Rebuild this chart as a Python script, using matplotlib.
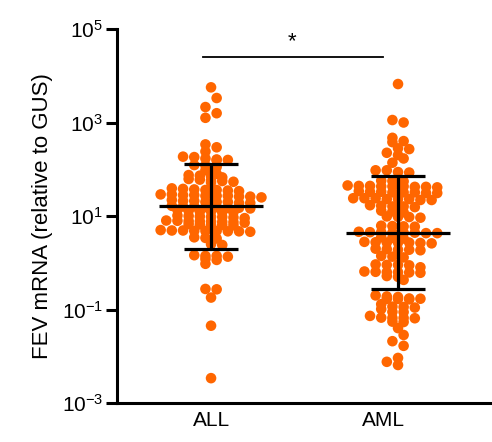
import numpy as np
import matplotlib
matplotlib.use("Agg")
import matplotlib.pyplot as plt

plt.rcParams['font.family'] = ['Liberation Sans', 'DejaVu Sans']
plt.rcParams['mathtext.fontset'] = 'custom'
plt.rcParams['mathtext.rm'] = 'Liberation Sans'
plt.rcParams['mathtext.it'] = 'Liberation Sans:italic'

categories = ["ALL", "AML"]

all_values = [
    5650, 3340, 2140, 1580, 1260,
    340, 295, 240,
    186, 170, 158, 156, 162, 182,
    123, 112, 95, 120,
    67, 80, 62, 75, 56, 73, 60, 70, 58,
    54, 52,
    38, 36, 35, 37, 34, 36, 39,
    28, 27, 26, 29, 27, 25, 28, 26, 27, 29,
    21, 20, 19, 21, 20, 22, 19, 20,
    15.5, 16, 15, 15.5, 16.5, 15, 14.5, 16,
    12.5, 13, 12, 12.5, 13.5, 12,
    9.5, 10, 9, 9.8, 9.3, 10.2, 9.6,
    7.7, 7.5, 8, 7.4, 7.9, 7.6, 7.2, 7.8,
    6.5, 6.3, 6.7, 6.4, 6.6,
    4.8, 4.9, 4.7, 4.8, 5.0, 4.6, 4.8, 4.9, 4.7,
    3.4, 3.5, 3.3,
    2.4, 2.5,
    1.4, 1.45, 1.35, 1.4,
    1.2, 1.15,
    0.95,
    0.275, 0.27, 0.18, 0.045, 0.0034,
]

aml_values = [
    6650, 1130, 1000,
    470, 380, 400, 270, 200, 170, 225, 280, 138,
    95, 87, 95, 85,
    57, 55, 56,
    43, 44, 42, 45, 41, 43, 44, 42, 43,
    32, 33, 31, 32, 34, 31, 32, 33,
    23, 24, 22, 23, 24, 22, 23, 24,
    16, 16.5, 15.5, 16, 17,
    12.5, 13, 12,
    9.5, 9.8, 9.2, 9.6,
    6.0, 6.2, 5.9, 6.1,
    4.4, 4.5, 4.3, 4.4, 4.6, 4.3, 4.5, 4.4,
    3.4, 3.5, 3.3,
    2.7, 2.8, 2.6, 2.7, 2.75, 2.65, 2.7,
    1.9, 1.95, 1.85, 1.9, 2.0,
    1.35, 1.3, 1.4,
    0.9, 0.92, 0.88, 0.9,
    0.8,
    0.63, 0.64, 0.62, 0.63, 0.65, 0.61,
    0.5, 0.52,
    0.43,
    0.2, 0.185, 0.19,
    0.168, 0.17, 0.165, 0.168, 0.172,
    0.13,
    0.113, 0.115, 0.11,
    0.102,
    0.089, 0.088,
    0.073,
    0.066, 0.067, 0.065, 0.066,
    0.054, 0.055,
    0.040,
    0.0285,
    0.021,
    0.0167,
    0.0092,
    0.0076,
    0.0065,
]

# summary bars: center, lower, upper
bar_center = [16.4, 4.4]
bar_lower = [1.96, 0.275]
bar_upper = [128, 71]

yticks = [1e-3, 1e-1, 1e1, 1e3, 1e5]
ylabel = "FEV mRNA (relative to GUS)"
sig_text = "*"
sig_level = 2.5e4

# ---- layout ----
W, H = 492, 442
fig = plt.figure(figsize=(W / 100, H / 100), dpi=100)
ax = fig.add_axes([117 / W, 39 / H, (490 - 117) / W, (403 - 29) / H])

group_pos = [0.0, 1.0]
tick_pos = [0.0, 0.92]
ax.set_xlim(-0.503, 1.492)
ax.set_yscale('log')
ax.set_ylim(1e-3, 1e5)

fig.canvas.draw()

orange = '#FF6600'
d = 11.2  # dot spacing in pixels
row_tol = 3.5
px_per_unit = ax.transData.transform((1, 1))[0] - ax.transData.transform((0, 1))[0]


def swarm_offsets(values):
    vals = np.asarray(values, dtype=float)
    ydisp = ax.transData.transform(np.column_stack([np.zeros_like(vals), vals]))[:, 1]
    order = np.argsort(-ydisp)
    # build rows
    rows = []
    for i in order:
        if rows and abs(ydisp[rows[-1][0]] - ydisp[i]) <= row_tol:
            rows[-1].append(i)
        else:
            rows.append([i])
    offs = np.zeros(len(vals))
    placed = []
    for row in rows:
        n = len(row)
        base = (np.arange(n) - (n - 1) / 2.0) * d
        # sort row members by value so arrangement is stable
        best, best_pen = None, None
        for s in (0.0, d / 2, -d / 2):
            xs = base + s
            pen = 0.0
            for k, i in enumerate(row):
                for px, py in placed:
                    dist = np.hypot(xs[k] - px, ydisp[i] - py)
                    if dist < d:
                        pen += (d - dist)
            pen += 0.01 * abs(s)
            if best_pen is None or pen < best_pen - 1e-9:
                best, best_pen = xs, pen
        for k, i in enumerate(row):
            offs[i] = best[k]
            placed.append((best[k], ydisp[i]))
    return offs / px_per_unit


for pos, vals in zip(group_pos, [all_values, aml_values]):
    xo = swarm_offsets(vals)
    ax.scatter(pos + xo, vals, s=58, color=orange, edgecolors='none', zorder=2)

lw = 2.3
for pos, c, lo, hi in zip(group_pos, bar_center, bar_lower, bar_upper):
    ax.plot([pos - 0.278, pos + 0.278], [c, c], color='black', lw=lw, zorder=3, solid_capstyle='butt')
    ax.plot([pos, pos], [lo, hi], color='black', lw=lw, zorder=3, solid_capstyle='butt')
    for v in (lo, hi):
        ax.plot([pos - 0.144, pos + 0.144], [v, v], color='black', lw=lw, zorder=3, solid_capstyle='butt')

# significance bar
ax.plot([-0.043, 0.92], [sig_level, sig_level], color='black', lw=1.3, clip_on=False)
ax.text(0.433, sig_level * 1.25, sig_text, ha='center', va='bottom', fontsize=16)

ax.set_xticks(tick_pos)
ax.set_xticklabels(categories, fontsize=15)
ax.set_yticks(yticks)
ax.yaxis.set_minor_locator(matplotlib.ticker.NullLocator())
ax.tick_params(axis='x', length=0, pad=6)
ax.tick_params(axis='y', length=8, width=2.2, labelsize=15, pad=2)
ax.set_ylabel(ylabel, fontsize=16, labelpad=6)

for s in ('top', 'right'):
    ax.spines[s].set_visible(False)
for s in ('left', 'bottom'):
    ax.spines[s].set_linewidth(2.2)

fig.savefig('out.png', dpi=100)
